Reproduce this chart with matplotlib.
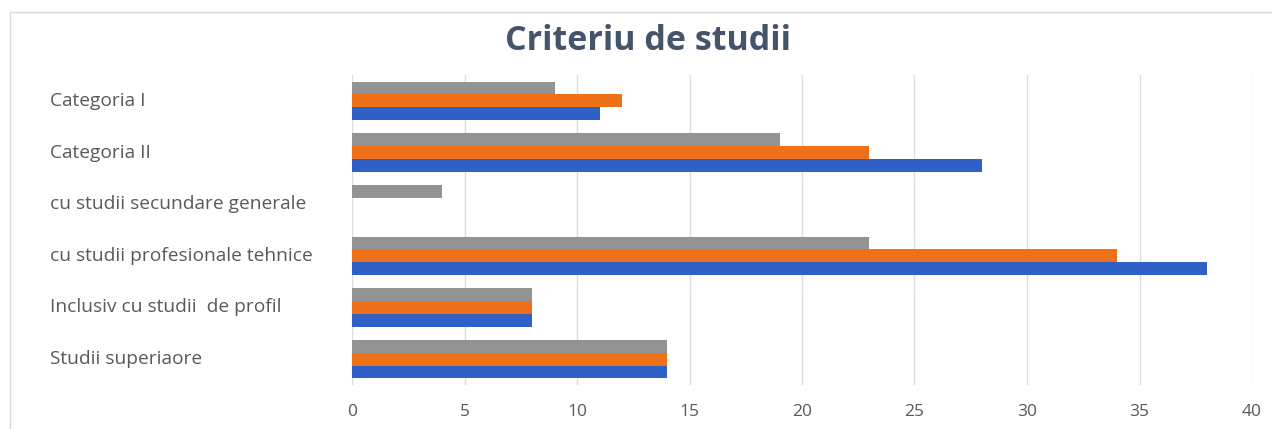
import matplotlib
matplotlib.use("Agg")
import matplotlib.pyplot as plt
import numpy as np
from matplotlib.transforms import blended_transform_factory
from matplotlib.patches import Rectangle

categories = ["Categoria I", "Categoria II", "cu studii secundare generale",
              "cu studii profesionale tehnice", "Inclusiv cu studii  de profil",
              "Studii superiaore"]
series_blue = [11, 28, 0, 38, 8, 14]
series_orange = [12, 23, 0, 34, 8, 14]
series_gray = [9, 19, 4, 23, 8, 14]
xticks = [0, 5, 10, 15, 20, 25, 30, 35, 40]

plt.rcParams['font.family'] = ['Open Sans', 'DejaVu Sans']

W, H = 1272, 429
fig = plt.figure(figsize=(W / 100, H / 100), dpi=100)
ax = fig.add_axes([352 / W, 1 - 385 / H, (1252 - 352) / W, (385 - 75) / H])

y = np.arange(len(categories))
h = 0.246
ax.barh(y + h, series_blue, height=h, color="#2F60C6")
ax.barh(y, series_orange, height=h, color="#EE7018")
ax.barh(y - h, series_gray, height=h, color="#939393")

ax.set_ylim(len(categories) - 0.5, -0.5)
ax.set_xlim(0, 40)
ax.set_xticks(xticks)
ax.set_xticklabels([str(t) for t in xticks], color="#595959", fontsize=12.5)
ax.tick_params(axis='x', length=0, pad=14)
ax.set_yticks([])
for s in ax.spines.values():
    s.set_visible(False)
ax.grid(axis='x', color="#DCDCE6", linewidth=1)
ax.set_axisbelow(True)

tr = blended_transform_factory(fig.transFigure, ax.transData)
for i, c in enumerate(categories):
    ax.text(50 / W, i, c, transform=tr, ha='left', va='center',
            fontsize=13.8, color="#595959")

fig.text(648 / W, 1 - 41 / H, "Criteriu de studii", ha='center', va='center',
         fontsize=24.5, fontweight='bold', color="#44546A")

fig.patches.append(Rectangle((10 / W, -0.1), 1.2, 1 - 12 / H + 0.1,
                             transform=fig.transFigure, fill=False,
                             edgecolor="#DADADA", linewidth=1))

fig.savefig("out.png", dpi=100)
